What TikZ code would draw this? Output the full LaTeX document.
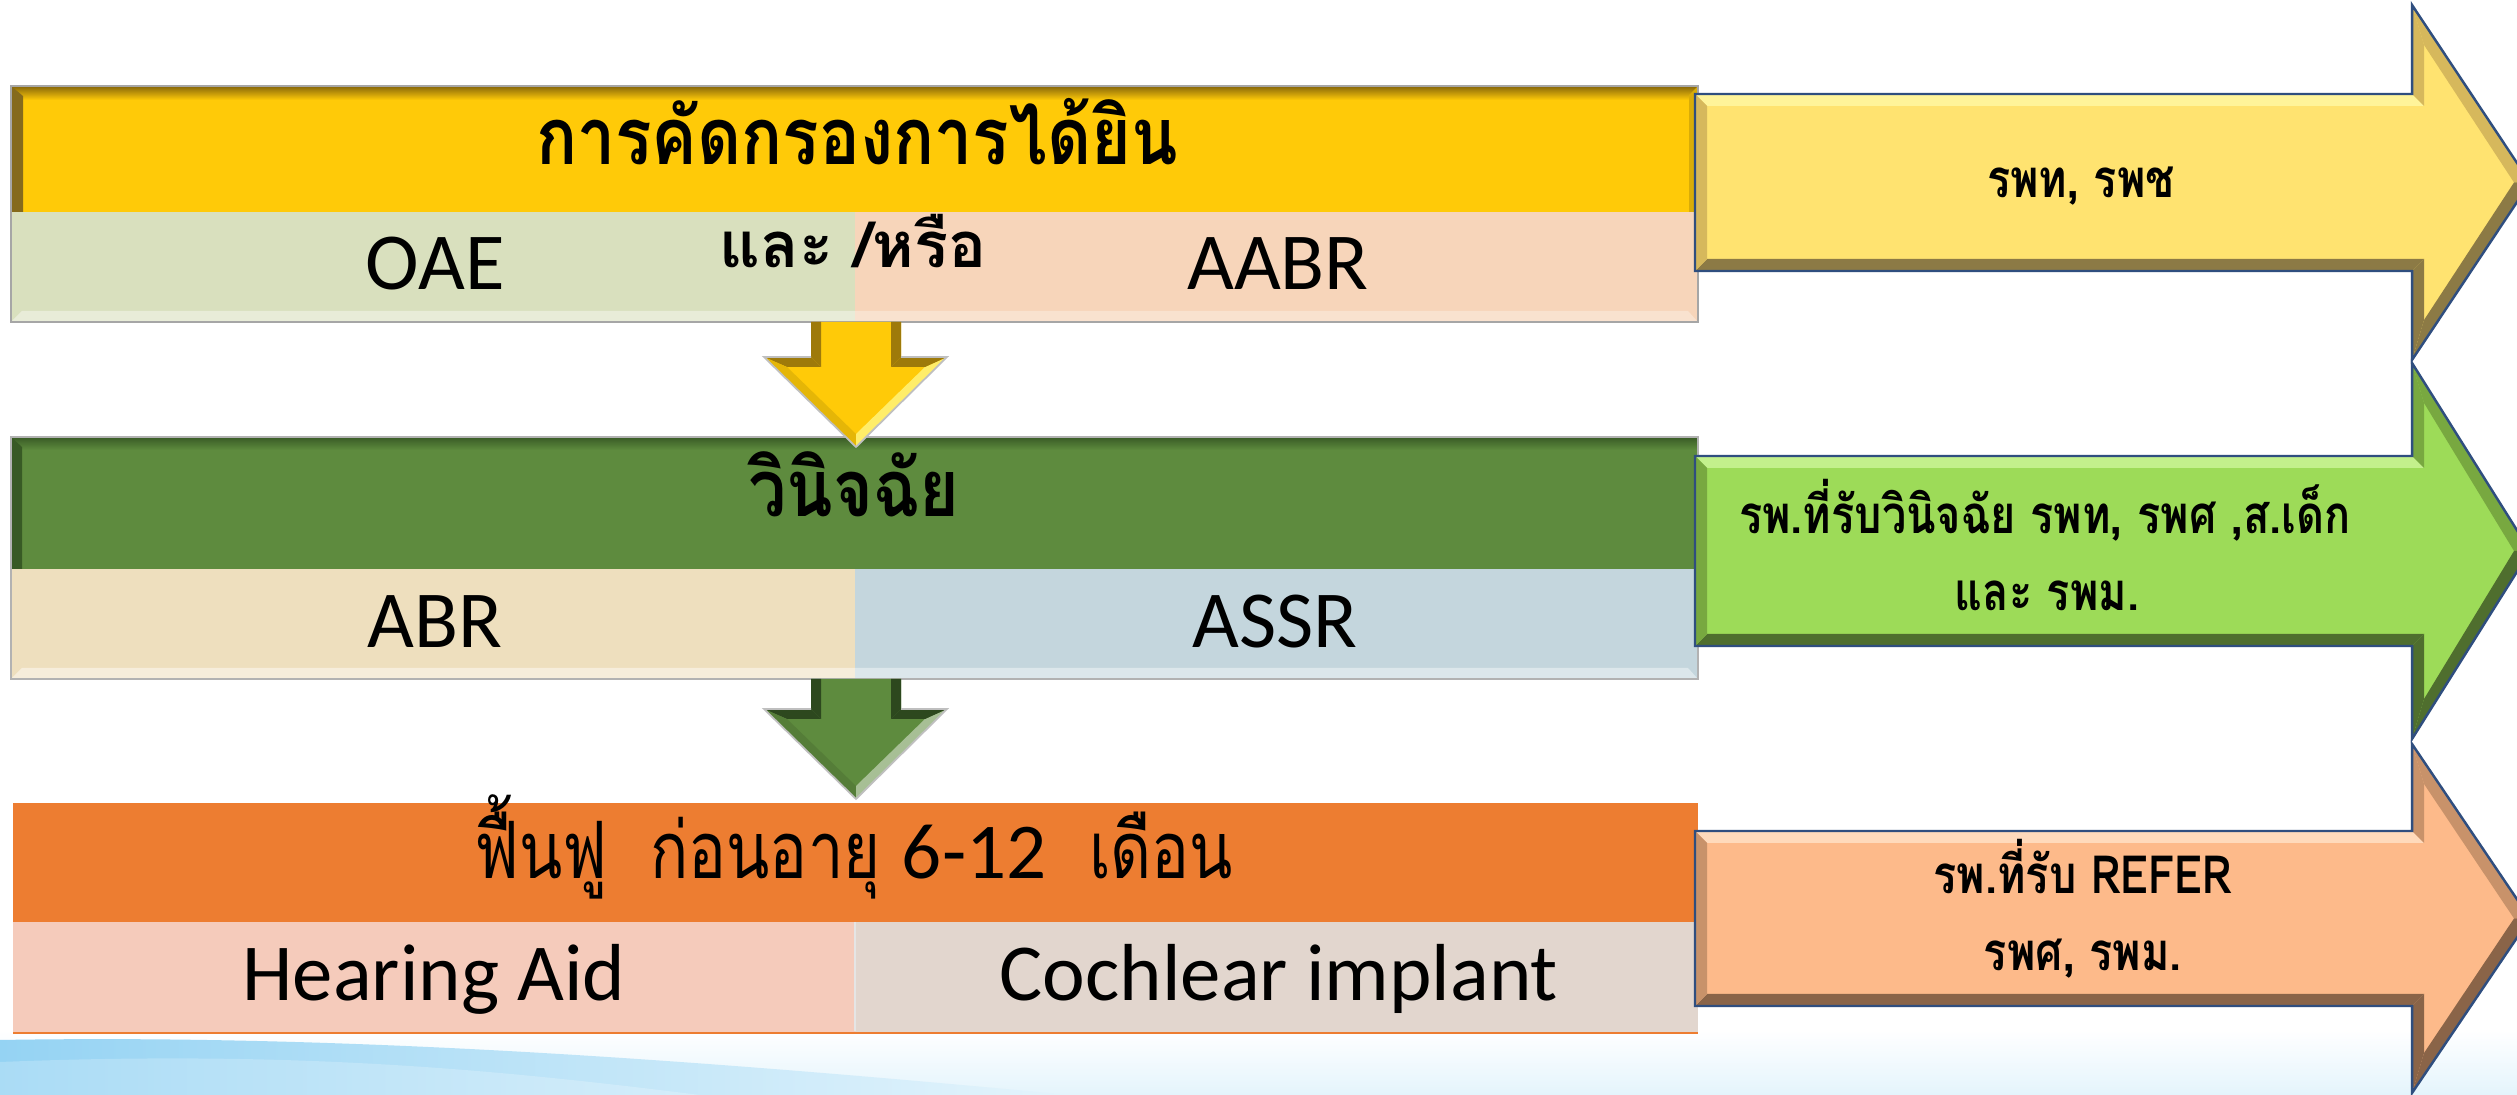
\documentclass[tikz,border=0pt]{standalone}
\usepackage{fontspec}
\setmainfont{Carlito}
\newfontfamily\thai[Script=Thai]{Loma}
\newfontfamily\thaiC[Script=Thai,FakeStretch=0.86]{Loma}
\newfontfamily\thaiR[Script=Thai,FakeStretch=0.8]{Loma}
\newfontfamily\thaiA[Script=Thai,FakeStretch=0.82]{Loma}
\definecolor{yhead}{HTML}{FFCA08}
\definecolor{ydark}{HTML}{86660A}
\definecolor{oaec}{HTML}{D9E0BE}
\definecolor{aabrc}{HTML}{F7D5BA}
\definecolor{ghead}{HTML}{5E8B3E}
\definecolor{gdark}{HTML}{385A25}
\definecolor{abrc}{HTML}{EEDFBE}
\definecolor{assrc}{HTML}{C4D6DD}
\definecolor{ohead}{HTML}{ED7D31}
\definecolor{hac}{HTML}{F5CBBB}
\definecolor{cic}{HTML}{E2D6CE}
\definecolor{yarr}{HTML}{FFE370}
\definecolor{yarrL}{HTML}{FFF49A}
\definecolor{yarrM}{HTML}{D6B85C}
\definecolor{yarrD}{HTML}{8C7A45}
\definecolor{garr}{HTML}{9DDB58}
\definecolor{garrL}{HTML}{C3F08C}
\definecolor{garrM}{HTML}{78A840}
\definecolor{garrD}{HTML}{4F6E2E}
\definecolor{oarr}{HTML}{FDBA8A}
\definecolor{oarrL}{HTML}{FFDABB}
\definecolor{oarrM}{HTML}{C8926A}
\definecolor{oarrD}{HTML}{8A6448}
\definecolor{aline}{HTML}{2F4E7F}
\definecolor{bgblue}{HTML}{95D3F3}
\definecolor{bgpale}{HTML}{E4F4FC}
\tikzset{
  thtitle/.style={font=\thaiC\bfseries\fontsize{22.5}{26}\selectfont, anchor=base, inner sep=0pt},
  latcell/.style={font=\fontsize{23}{27}\selectfont, anchor=base, inner sep=0pt},
  arrtext/.style={font=\thaiA\bfseries\fontsize{15}{18}\selectfont, anchor=base, inner sep=0pt},
  outl/.style={draw=aline, line width=0.7pt, line join=miter}
}
% right block arrow: #1 fill, #2 light, #3 mid, #4 dark, #5 body top, #6 body bottom, #7 head top
\newcommand\rarrow[7]{%
 \pgfmathsetmacro\rAy{#5}\pgfmathsetmacro\rBy{#6}\pgfmathsetmacro\rHa{#7}%
 \pgfmathsetmacro\rHb{#5+#6-#7}\pgfmathsetmacro\rYc{(#5+#6)/2}%
 \pgfmathsetmacro\rAi{#5+12}\pgfmathsetmacro\rBi{#6-12}%
 \pgfmathsetmacro\rHai{#7+40}\pgfmathsetmacro\rHbi{#5+#6-#7-40}%
 \fill[#1] (1695,\rAy) -- (2412,\rAy) -- (2412,\rHa) -- (2530,\rYc) -- (2412,\rHb) -- (2412,\rBy) -- (1695,\rBy) -- cycle;
 \fill[#2] (1695,\rAy) -- (2412,\rAy) -- (2424,\rAi) -- (1707,\rAi) -- cycle;
 \fill[#3] (2412,\rAy) -- (2412,\rHa) -- (2424,\rHai) -- (2424,\rAi) -- cycle;
 \fill[#3] (2412,\rHa) -- (2530,\rYc) -- (2514,\rYc) -- (2424,\rHai) -- cycle;
 \fill[#4] (2530,\rYc) -- (2412,\rHb) -- (2424,\rHbi) -- (2514,\rYc) -- cycle;
 \fill[#4] (2412,\rHb) -- (2412,\rBy) -- (2424,\rBi) -- (2424,\rHbi) -- cycle;
 \fill[#4] (2412,\rBy) -- (1695,\rBy) -- (1707,\rBi) -- (2424,\rBi) -- cycle;
 \fill[#3] (1695,\rBy) -- (1695,\rAy) -- (1707,\rAi) -- (1707,\rBi) -- cycle;
 \draw[outl] (1695,\rAy) -- (2412,\rAy) -- (2412,\rHa) -- (2530,\rYc) -- (2412,\rHb) -- (2412,\rBy) -- (1695,\rBy) -- cycle;
}
% down block arrow: #1 fill, #2 dark, #3 mid, #4 light, #5 shaft top, #6 flange y, #7 tip y
\newcommand\darrow[7]{%
 \pgfmathsetmacro\dFi{#6+10}\pgfmathsetmacro\dTi{#7-13}%
 \fill[#1] (811,#5) -- (901,#5) -- (901,#6) -- (947,#6) -- (856,#7) -- (764,#6) -- (811,#6) -- cycle;
 \fill[#2] (811,#5) -- (821,#5) -- (821,\dFi) -- (811,#6) -- cycle;
 \fill[#2] (811,#6) -- (764,#6) -- (787,\dFi) -- (821,\dFi) -- cycle;
 \fill[#3] (764,#6) -- (856,#7) -- (856,\dTi) -- (787,\dFi) -- cycle;
 \fill[#4] (856,#7) -- (947,#6) -- (925,\dFi) -- (856,\dTi) -- cycle;
 \fill[#2] (947,#6) -- (901,#6) -- (891,\dFi) -- (925,\dFi) -- cycle;
 \fill[#2] (901,#6) -- (901,#5) -- (891,#5) -- (891,\dFi) -- cycle;
 \draw[black!25, line width=0.5pt] (811,#6) -- (764,#6) -- (856,#7) -- (947,#6) -- (901,#6);
}
\begin{document}
\begin{tikzpicture}[x=0.01cm,y=-0.01cm]
\useasboundingbox (0,0) rectangle (2517,1095);
\begin{scope}
\clip (0,0) rectangle (2517,1095);
% background
\fill[white] (0,0) rectangle (2517,1095);
\shade[top color=white, bottom color=bgpale] (0,1030) rectangle (2517,1095);
\shade[left color=bgblue, right color=bgpale] (0,1040) .. controls (350,1034) and (700,1060) .. (1070,1095) -- (0,1095) -- cycle;
\shade[left color=bgblue!80!white, right color=bgblue!40!white] (0,1062) .. controls (300,1050) and (500,1070) .. (700,1095) -- (0,1095) -- cycle;

% ---------- box 1 : screening ----------
\fill[yhead] (11,86) rectangle (1698,212);
\shade[top color=ydark, bottom color=yhead] (11,86) rectangle (1698,100);
\fill[ydark!85!gray] (11,86) -- (23,96) -- (23,212) -- (11,212) -- cycle;
\fill[yhead!85!black] (1698,86) -- (1698,212) -- (1689,212) -- (1689,95) -- cycle;
\fill[oaec] (11,212) rectangle (855,322);
\fill[aabrc] (855,212) rectangle (1698,322);
\fill[oaec!60!white] (11,322) -- (855,322) -- (855,311) -- (22,311) -- cycle;
\fill[aabrc!70!white] (855,322) -- (1698,322) -- (1688,311) -- (855,311) -- cycle;
\draw[black!35, line width=0.4pt] (11,86) rectangle (1698,322);
\node[thtitle] (scr) at (857,165) {การคัดกรองการได้ยิน};
\node[latcell] (oae) at (435,290) {OAE};
\node[thtitle, font=\thai\bfseries\fontsize{18}{22}\selectfont] (andor) at (853,268) {และ /หรือ};
\node[latcell] (aabr) at (1278,290) {AABR};

% ---------- box 2 : diagnosis ----------
\fill[ghead] (11,437) rectangle (1698,569);
\shade[top color=gdark, bottom color=ghead] (11,437) rectangle (1698,450);
\fill[gdark] (11,437) -- (22,447) -- (22,569) -- (11,569) -- cycle;
\fill[abrc] (11,569) rectangle (855,679);
\fill[assrc] (855,569) rectangle (1698,679);
\fill[abrc!55!white] (11,679) -- (855,679) -- (855,668) -- (22,668) -- cycle;
\fill[assrc!60!white] (855,679) -- (1698,679) -- (1688,668) -- (855,668) -- cycle;
\draw[black!30, line width=0.4pt] (11,437) rectangle (1698,679);
\node[thtitle] (diag) at (854,517) {วินิจฉัย};
\node[latcell] (abr) at (435,648) {ABR};
\node[latcell] (assr) at (1275,648) {ASSR};

% ---------- box 3 : rehabilitation ----------
\fill[ohead] (13,803) rectangle (1698,922);
\fill[hac] (13,922) rectangle (855,1033);
\fill[cic] (855,922) rectangle (1698,1033);
\draw[white!80!gray, line width=0.5pt] (855,922) -- (855,1031);
\draw[ohead, line width=0.8pt] (13,1033) -- (1698,1033);
\node[thtitle, font=\thaiR\fontsize{22.5}{26}\selectfont] (rehab) at (854,879) {ฟื้นฟู\ \ ก่อนอายุ {\rmfamily 6-12}\ \ เดือน};
\node[latcell] (ha) at (434,1001) {Hearing Aid};
\node[latcell] (ci) at (1279,1001) {Cochlear implant};

% ---------- down arrows ----------
\darrow{yhead}{ydark!80!yhead}{yhead!90!black}{yhead!55!yellow!60!white}{322}{357}{447}
\darrow{ghead}{gdark!80!black}{ghead!90!black}{ghead!55!white}{679}{709}{799}

% ---------- right arrows ----------
\rarrow{yarr}{yarrL}{yarrM}{yarrD}{94}{271}{5}
\rarrow{garr}{garrL}{garrM}{garrD}{456}{646}{363}
\rarrow{oarr}{oarrL}{oarrM}{oarrD}{831}{1006}{744}

\node[arrtext] (r1) at (2081,198) {รพท, รพช};
\node[arrtext] (r2a) at (2045,534) {รพ.ที่รับวินิจฉัย รพท, รพศ ,ส.เด็ก};
\node[arrtext] (r2b) at (2047,611) {และ รพม.};
\node[arrtext] (r3a) at (2083,894) {รพ.ที่รับ REFER};
\node[arrtext] (r3b) at (2083,971) {รพศ, รพม.};
\end{scope}
\end{tikzpicture}
\end{document}
